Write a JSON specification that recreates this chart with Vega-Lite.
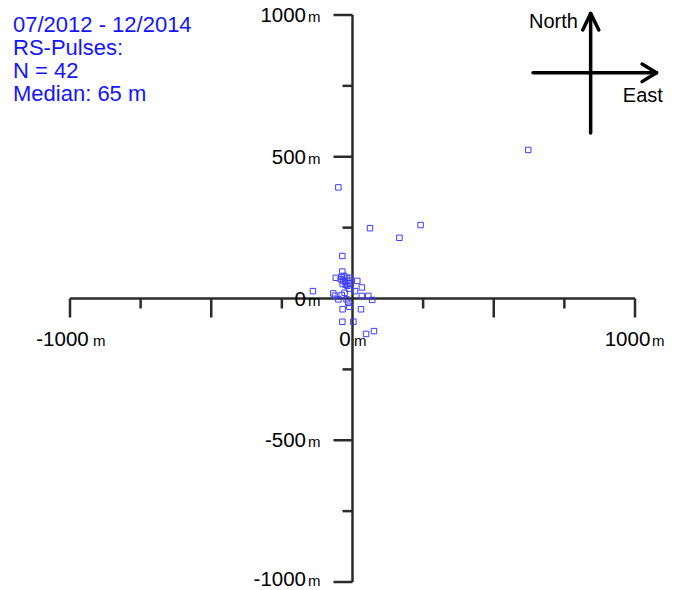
{
  "$schema": "https://vega.github.io/schema/vega-lite/v6.json",
  "width": 565,
  "height": 567,
  "autosize": {"type": "none"},
  "padding": {"left": 70, "top": 15, "right": 45, "bottom": 8},
  "background": "white",
  "config": {"view": {"stroke": null}, "font": "Liberation Sans"},
  "title": {
    "text": ["07/2012 - 12/2014", "RS-Pulses:", "N = 42", "Median: 65 m"],
    "anchor": "start",
    "frame": "group",
    "font": "Liberation Sans",
    "fontSize": 22,
    "fontWeight": "normal",
    "color": "#1414ff",
    "lineHeight": 23.2,
    "baseline": "top",
    "dx": -57,
    "dy": 100,
    "offset": 0
  },
  "datasets": {
    "pts": [
      {"east": -36, "north": 150}, {"east": -36, "north": 95}, {"east": -59, "north": 73},
      {"east": -38, "north": 77}, {"east": -21, "north": 73}, {"east": -9, "north": 73},
      {"east": -33, "north": 63}, {"east": -15, "north": 63}, {"east": 17, "north": 62},
      {"east": -35, "north": 51}, {"east": -23, "north": 48}, {"east": 33, "north": 39},
      {"east": -12, "north": 35}, {"east": 9, "north": 26}, {"east": -140, "north": 26},
      {"east": -68, "north": 18}, {"east": -62, "north": 10}, {"east": -38, "north": 12},
      {"east": 33, "north": 9}, {"east": 56, "north": 9}, {"east": -50, "north": -3},
      {"east": -21, "north": -3}, {"east": 70, "north": -5}, {"east": -15, "north": -15},
      {"east": -35, "north": -38}, {"east": -11, "north": -29}, {"east": 30, "north": -38},
      {"east": -36, "north": -82}, {"east": 3, "north": -82}, {"east": 48, "north": -125},
      {"east": 76, "north": -115}, {"east": -50, "north": 392}, {"east": 62, "north": 248},
      {"east": 166, "north": 214}, {"east": 241, "north": 259}, {"east": 622, "north": 524},
      {"east": -30, "north": 80}, {"east": -26, "north": 58}, {"east": -18, "north": 45},
      {"east": -28, "north": 20}, {"east": -8, "north": 52}, {"east": -42, "north": 68}
    ],
    "axes": [
      {"x1": -1000, "x2": 1000, "y1": 0, "y2": 0},
      {"x1": 0, "x2": 0, "y1": -1000, "y2": 1000}
    ],
    "ticks": [
      {"v": -1000, "kind": "major"}, {"v": -750, "kind": "minor"}, {"v": -500, "kind": "major"},
      {"v": -250, "kind": "minor"}, {"v": 250, "kind": "minor"}, {"v": 500, "kind": "major"},
      {"v": 750, "kind": "minor"}, {"v": 1000, "kind": "major"}
    ],
    "xlabels": [
      {"v": -1000, "num": "-1000", "unit": "m"},
      {"v": 0, "num": "0", "unit": "m"},
      {"v": 1000, "num": "1000", "unit": "m"}
    ],
    "ylabels": [
      {"v": 1000, "num": "1000", "unit": "m"},
      {"v": 500, "num": "500", "unit": "m"},
      {"v": 0, "num": "0", "unit": "m"},
      {"v": -500, "num": "-500", "unit": "m"},
      {"v": -1000, "num": "-1000", "unit": "m"}
    ],
    "compass": [
      {"x1": 843, "y1": 584, "x2": 843, "y2": 1005},
      {"x1": 815, "y1": 947, "x2": 843, "y2": 1005},
      {"x1": 872, "y1": 947, "x2": 843, "y2": 1005},
      {"x1": 639, "y1": 796, "x2": 1076, "y2": 796},
      {"x1": 1025, "y1": 827, "x2": 1076, "y2": 796},
      {"x1": 1025, "y1": 765, "x2": 1076, "y2": 796}
    ],
    "compassText": [
      {"x": 798, "y": 954, "label": "North", "side": "right"},
      {"x": 957, "y": 694, "label": "East", "side": "left"}
    ]
  },
  "encoding": {},
  "layer": [
    {
      "data": {"name": "axes"},
      "mark": {"type": "rule", "color": "#2b2b2b", "strokeWidth": 2.5},
      "encoding": {
        "x": {"field": "x1", "type": "quantitative", "scale": {"domain": [-1000, 1000], "nice": false, "zero": false}, "axis": null},
        "x2": {"field": "x2"},
        "y": {"field": "y1", "type": "quantitative", "scale": {"domain": [-1000, 1000], "nice": false, "zero": false}, "axis": null},
        "y2": {"field": "y2"}
      }
    },
    {
      "data": {"name": "ticks"},
      "transform": [{"filter": "datum.kind == 'major'"}],
      "mark": {"type": "tick", "orient": "vertical", "size": 19, "thickness": 2.5, "yOffset": 9.5, "color": "#2b2b2b", "opacity": 1},
      "encoding": {
        "x": {"field": "v", "type": "quantitative"},
        "y": {"datum": 0, "type": "quantitative"}
      }
    },
    {
      "data": {"name": "ticks"},
      "transform": [{"filter": "datum.kind == 'minor'"}],
      "mark": {"type": "tick", "orient": "vertical", "size": 10, "thickness": 2.5, "yOffset": 5, "color": "#2b2b2b", "opacity": 1},
      "encoding": {
        "x": {"field": "v", "type": "quantitative"},
        "y": {"datum": 0, "type": "quantitative"}
      }
    },
    {
      "data": {"name": "ticks"},
      "transform": [{"filter": "datum.kind == 'major'"}],
      "mark": {"type": "tick", "orient": "horizontal", "size": 19, "thickness": 2.5, "xOffset": -9.5, "color": "#2b2b2b", "opacity": 1},
      "encoding": {
        "y": {"field": "v", "type": "quantitative"},
        "x": {"datum": 0, "type": "quantitative"}
      }
    },
    {
      "data": {"name": "ticks"},
      "transform": [{"filter": "datum.kind == 'minor'"}],
      "mark": {"type": "tick", "orient": "horizontal", "size": 10, "thickness": 2.5, "xOffset": -5, "color": "#2b2b2b", "opacity": 1},
      "encoding": {
        "y": {"field": "v", "type": "quantitative"},
        "x": {"datum": 0, "type": "quantitative"}
      }
    },
    {
      "data": {"name": "ylabels"},
      "transform": [{"filter": "datum.v > -1000"}],
      "mark": {"type": "text", "align": "right", "baseline": "alphabetic", "dx": -46.5, "dy": 7.2, "fontSize": 20.5, "color": "black"},
      "encoding": {
        "y": {"field": "v", "type": "quantitative"},
        "x": {"datum": 0, "type": "quantitative"},
        "text": {"field": "num"}
      }
    },
    {
      "data": {"name": "ylabels"},
      "transform": [{"filter": "datum.v > -1000"}],
      "mark": {"type": "text", "align": "left", "baseline": "alphabetic", "dx": -44.5, "dy": 7.2, "fontSize": 15, "color": "black"},
      "encoding": {
        "y": {"field": "v", "type": "quantitative"},
        "x": {"datum": 0, "type": "quantitative"},
        "text": {"field": "unit"}
      }
    },
    {
      "data": {"name": "ylabels"},
      "transform": [{"filter": "datum.v == -1000"}],
      "mark": {"type": "text", "align": "right", "baseline": "alphabetic", "dx": -46.5, "dy": 3.5, "fontSize": 20.5, "color": "black"},
      "encoding": {
        "y": {"field": "v", "type": "quantitative"},
        "x": {"datum": 0, "type": "quantitative"},
        "text": {"field": "num"}
      }
    },
    {
      "data": {"name": "ylabels"},
      "transform": [{"filter": "datum.v == -1000"}],
      "mark": {"type": "text", "align": "left", "baseline": "alphabetic", "dx": -44.5, "dy": 3.5, "fontSize": 15, "color": "black"},
      "encoding": {
        "y": {"field": "v", "type": "quantitative"},
        "x": {"datum": 0, "type": "quantitative"},
        "text": {"field": "unit"}
      }
    },
    {
      "data": {"name": "xlabels"},
      "mark": {"type": "text", "align": "center", "baseline": "alphabetic", "dx": -7.5, "dy": 47.5, "fontSize": 20.5, "color": "black"},
      "encoding": {
        "x": {"field": "v", "type": "quantitative"},
        "y": {"datum": 0, "type": "quantitative"},
        "text": {"field": "num"}
      }
    },
    {
      "data": {"name": "xlabels"},
      "transform": [{"filter": "datum.v < 0"}],
      "mark": {"type": "text", "align": "left", "baseline": "alphabetic", "dx": 23, "dy": 47.5, "fontSize": 15, "color": "black"},
      "encoding": {
        "x": {"field": "v", "type": "quantitative"},
        "y": {"datum": 0, "type": "quantitative"},
        "text": {"field": "unit"}
      }
    },
    {
      "data": {"name": "xlabels"},
      "transform": [{"filter": "datum.v == 0"}],
      "mark": {"type": "text", "align": "left", "baseline": "alphabetic", "dx": 1.5, "dy": 47.5, "fontSize": 15, "color": "black"},
      "encoding": {
        "x": {"field": "v", "type": "quantitative"},
        "y": {"datum": 0, "type": "quantitative"},
        "text": {"field": "unit"}
      }
    },
    {
      "data": {"name": "xlabels"},
      "transform": [{"filter": "datum.v > 0"}],
      "mark": {"type": "text", "align": "left", "baseline": "alphabetic", "dx": 17, "dy": 47.5, "fontSize": 15, "color": "black"},
      "encoding": {
        "x": {"field": "v", "type": "quantitative"},
        "y": {"datum": 0, "type": "quantitative"},
        "text": {"field": "unit"}
      }
    },
    {
      "data": {"name": "compass"},
      "mark": {"type": "rule", "color": "black", "strokeWidth": 3.5, "strokeCap": "round"},
      "encoding": {
        "x": {"field": "x1", "type": "quantitative"},
        "x2": {"field": "x2"},
        "y": {"field": "y1", "type": "quantitative"},
        "y2": {"field": "y2"}
      }
    },
    {
      "data": {"name": "compassText"},
      "transform": [{"filter": "datum.side == 'right'"}],
      "mark": {"type": "text", "align": "right", "baseline": "alphabetic", "fontSize": 20, "color": "black"},
      "encoding": {
        "x": {"field": "x", "type": "quantitative"},
        "y": {"field": "y", "type": "quantitative"},
        "text": {"field": "label"}
      }
    },
    {
      "data": {"name": "compassText"},
      "transform": [{"filter": "datum.side == 'left'"}],
      "mark": {"type": "text", "align": "left", "baseline": "alphabetic", "fontSize": 20, "color": "black"},
      "encoding": {
        "x": {"field": "x", "type": "quantitative"},
        "y": {"field": "y", "type": "quantitative"},
        "text": {"field": "label"}
      }
    },
    {
      "data": {"name": "pts"},
      "mark": {"type": "point", "shape": "square", "filled": false, "size": 30, "strokeWidth": 1, "color": "#3d3dff", "opacity": 1},
      "encoding": {
        "x": {"field": "east", "type": "quantitative"},
        "y": {"field": "north", "type": "quantitative"}
      }
    }
  ]
}
